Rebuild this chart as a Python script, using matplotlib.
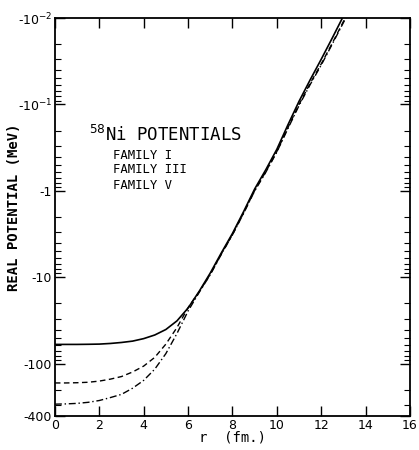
import matplotlib
matplotlib.use('Agg')
import matplotlib.pyplot as plt
import numpy as np
from matplotlib.ticker import FixedLocator, NullFormatter

# radius (fm) and |V| (MeV)
r_pts = [0, 0.5, 1, 1.5, 2, 2.5, 3, 3.5, 4, 4.5, 5, 5.5, 6, 6.5, 7, 7.5, 8, 8.5,
         9, 9.5, 10, 10.5, 11, 11.5, 12, 12.5, 13, 13.5]
fam1 = [59.5, 59.5, 59.5, 59.3, 59.0, 58.0, 56.5, 54.5, 51.0, 46.3, 40.0, 31.8,
        22.6, 14.5, 8.9, 5.2, 3.1, 1.74, 0.95, 0.57, 0.33, 0.172, 0.092, 0.052,
        0.030, 0.017, 0.0095, 0.0055]
fam3 = [166, 166, 165, 163, 158, 150, 140, 124, 106, 84, 59, 38,
        22.4, 14.7, 9.2, 5.35, 3.2, 1.8, 0.99, 0.6, 0.35, 0.185, 0.1, 0.057,
        0.034, 0.0195, 0.011, 0.0063]
fam5 = [292, 290, 286, 278, 265, 245, 225, 191, 155, 115, 76, 44.5,
        24.5, 14.9, 9.3, 5.4, 3.22, 1.82, 1.0, 0.61, 0.355, 0.19, 0.103, 0.059,
        0.035, 0.02, 0.0113, 0.0065]

ytick_vals = [0.01, 0.1, 1, 10, 100, 400]
ytick_labels = ['-10$^{-2}$', '-10$^{-1}$', '-1', '-10', '-100', '-400']
xtick_vals = [0, 2, 4, 6, 8, 10, 12, 14, 16]

mono = 'DejaVu Sans Mono'

fig = plt.figure(figsize=(4.19, 4.5), dpi=100)
ax = fig.add_axes([0.131, 0.0756, 0.8475, 0.8844])

ax.plot(r_pts, fam1, color='black', lw=1.2, ls='-')
ax.plot(r_pts, fam3, color='black', lw=1.0, ls=(0, (4, 2.5)))
ax.plot(r_pts, fam5, color='black', lw=1.0, ls=(0, (5, 2, 1, 2)))

ax.set_yscale('log')
ax.set_ylim(400, 0.01)
ax.set_xlim(0, 16)

minors = []
for dec in [0.01, 0.1, 1, 10, 100]:
    for k in range(2, 10):
        v = dec * k
        if v < 400:
            minors.append(v)
ax.yaxis.set_major_locator(FixedLocator(ytick_vals))
ax.yaxis.set_minor_locator(FixedLocator(minors))
ax.yaxis.set_minor_formatter(NullFormatter())
ax.set_yticklabels(ytick_labels)
ax.set_xticks(xtick_vals)
ax.set_xticklabels([str(v) for v in xtick_vals])

ax.tick_params(which='major', direction='in', length=7, width=1.0,
               top=True, right=True, labelsize=9, pad=2)
ax.tick_params(which='minor', direction='in', length=4, width=0.8,
               top=True, right=True)
for s in ax.spines.values():
    s.set_linewidth(1.3)

ax.set_xlabel('r  (fm.)', fontsize=10, family=mono, labelpad=-1)
ax.set_ylabel('REAL POTENTIAL (MeV)', fontsize=10, family=mono,
              fontweight='bold')
ax.yaxis.set_label_coords(-0.095, 0.525)

ax.text(1.55, 0.225, '$^{58}$Ni POTENTIALS', fontsize=12.5, family=mono,
        va='center')
ax.text(2.6, 0.384, 'FAMILY I', fontsize=8.8, va='center', family=mono)
ax.text(2.6, 0.571, 'FAMILY III', fontsize=8.8, va='center', family=mono)
ax.text(2.6, 0.875, 'FAMILY V', fontsize=8.8, va='center', family=mono)

fig.savefig('out.png', dpi=100)
